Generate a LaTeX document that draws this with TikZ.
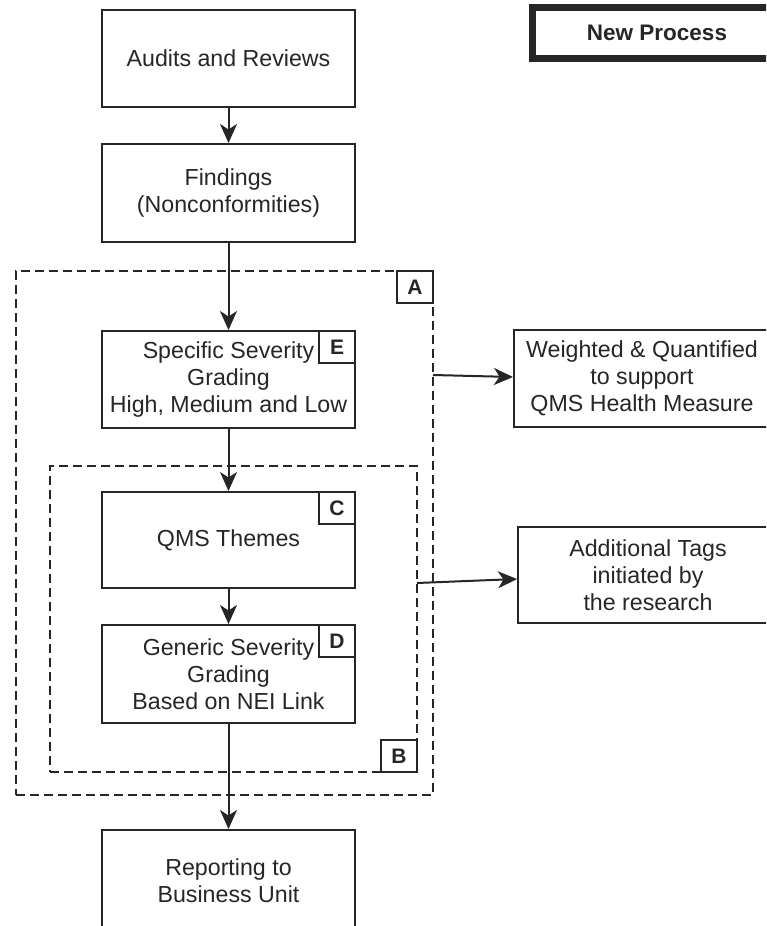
\documentclass[tikz,border=0pt]{standalone}
\usepackage{fontspec}
\setmainfont{Liberation Sans}
\usetikzlibrary{arrows.meta,positioning}

\definecolor{ink}{HTML}{262626}

\tikzset{
  x=1pt, y=-1pt,
  every node/.style={font=\fontsize{23.2}{27}\selectfont, text=ink},
  procbox/.style={draw=ink, line width=2pt, rectangle, align=center,
    inner sep=0pt, minimum width=253pt},
  groupbox/.style={draw=ink, line width=2pt, dash pattern=on 9pt off 5pt,
    rectangle, inner sep=0pt},
  tagbox/.style={draw=ink, line width=2pt, rectangle, inner sep=0pt,
    minimum width=36pt, minimum height=32pt,
    font=\fontsize{21}{24}\selectfont\bfseries},
  flow/.style={draw=ink, line width=2pt,
    -{Stealth[length=19pt, width=17pt, inset=5.5pt]}},
}

\begin{document}
\begin{tikzpicture}
\useasboundingbox (0,0) rectangle (766,926);
\clip (0,0) rectangle (766,926);
\fill[white] (0,0) rectangle (766,926);

% dashed groupings
\node[groupbox, minimum width=417pt, minimum height=524pt] (grpA) at (224.5,533) {};
\node[groupbox, minimum width=367pt, minimum height=306pt] (grpB) at (233.5,619) {};

% main process column
\node[procbox, minimum height=97pt] (audits) at (228.5,58.5) {Audits and Reviews};
\node[procbox, minimum height=98pt] (findings) at (228.5,193) {Findings\\(Nonconformities)};
\node[procbox, minimum height=97pt] (sev) at (228.5,379.5) {Specific Severity\\Grading\\High, Medium and Low};
\node[procbox, minimum height=96pt] (themes) at (228.5,540) {QMS Themes};
\node[procbox, minimum height=98pt] (generic) at (228.5,674) {Generic Severity\\Grading\\Based on NEI Link};
\node[procbox, minimum height=102pt] (report) at (228.5,881) {Reporting to\\Business Unit};

% side outputs
\node[procbox, minimum width=256pt, minimum height=97pt] (weighted) at (642,378.5)
  {Weighted \& Quantified\\to support\\QMS Health Measure};
\node[procbox, minimum width=260pt, minimum height=96pt] (tags) at (648,575)
  {Additional Tags\\initiated by\\the research};

% legend
\node[draw=ink, line width=7pt, rectangle, inner sep=0pt,
  minimum width=250pt, minimum height=51pt,
  font=\fontsize{22.5}{26}\selectfont\bfseries] (newproc) at (657,33) {New Process};

% corner tags
\node[tagbox, anchor=north east] (tagA) at (grpA.north east) {A};
\node[tagbox, anchor=south east] (tagB) at (grpB.south east) {B};
\node[tagbox, anchor=north east] (tagC) at (themes.north east) {C};
\node[tagbox, anchor=north east] (tagD) at (generic.north east) {D};
\node[tagbox, anchor=north east, fill=white] (tagE) at (sev.north east) {E};

% connectors
\coordinate (aOut) at (433,375);
\coordinate (bOut) at (417,583);
\draw[flow] (audits) -- (findings);
\draw[flow] (findings) -- (sev);
\draw[flow] (sev) -- (themes);
\draw[flow] (themes) -- (generic);
\draw[flow] (generic) -- (report);
\draw[flow] (aOut) -- ([yshift=1.5pt]weighted.west);
\draw[flow] (bOut) -- ([yshift=-4pt]tags.west);
\end{tikzpicture}
\end{document}
